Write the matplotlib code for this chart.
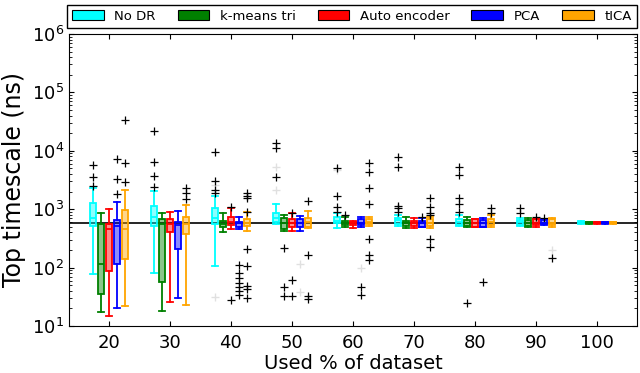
import matplotlib
matplotlib.use("Agg")
import matplotlib.pyplot as plt
from matplotlib.colors import to_rgba
from matplotlib.patches import Patch

groups = [20, 30, 40, 50, 60, 70, 80, 90, 100]
methods = ["No DR", "k-means tri", "Auto encoder", "PCA", "tICA"]
colors = ["#00ffff", "#008000", "#ff0000", "#0000ff", "#ffa500"]
offsets = [-2.65, -1.32, 0.0, 1.32, 2.65]
reference_level = 580

# per method: whislo, q1, median, q3, whishi for each group
nodr_lo = [77, 80, 108, 560, 470, 515, 515, 515, 560]
nodr_q1 = [515, 515, 560, 610, 580, 560, 535, 535, 572]
nodr_med = [700, 745, 700, 700, 635, 640, 611, 600, 588]
nodr_q3 = [1260, 1150, 1040, 850, 726, 700, 671, 653, 605]
nodr_hi = [2280, 2070, 1680, 1210, 850, 800, 796, 698, 620]
nodr_fl = [[5700, 3500, 2500], [21800, 6500, 3700, 2430], [9400, 3080, 2130, 1920],
           [13400, 11000, 3600], [5000, 1700, 1100, 906], [7700, 5200, 1135, 1036, 906],
           [5350, 3850, 1540, 1220, 890], [1036, 851], []]

km_lo = [17.6, 18.3, 412, 424, 490, 470, 505, 505, 560]
km_q1 = [36, 56, 490, 458, 535, 515, 520, 520, 570]
km_med = [117, 558, 558, 580, 590, 590, 580, 580, 585]
km_q3 = [558, 671, 635, 693, 635, 635, 653, 640, 600]
km_hi = [870, 871, 871, 796, 744, 744, 744, 700, 615]
km_fl = [[], [], [], [214, 47, 32], [780], [], [24.5], [], []]

ae_lo = [14.8, 26, 453, 428, 470, 470, 490, 505, 560]
ae_q1 = [87, 402, 535, 505, 535, 515, 505, 535, 570]
ae_med = [453, 558, 611, 580, 580, 580, 580, 580, 585]
ae_q3 = [558, 671, 726, 671, 611, 635, 671, 671, 600]
ae_hi = [996, 906, 1036, 851, 635, 700, 690, 690, 615]
ae_fl = [[], [], [1104, 28], [870, 61, 32], [], [], [], [721], []]

pca_lo = [20, 30, 453, 428, 490, 490, 490, 535, 560]
pca_q1 = [115, 206, 505, 505, 535, 505, 505, 560, 570]
pca_med = [515, 530, 578, 590, 590, 578, 580, 580, 585]
pca_q3 = [653, 611, 611, 671, 671, 635, 653, 653, 600]
pca_hi = [1343, 942, 744, 765, 744, 700, 698, 680, 615]
pca_fl = [[7150, 3250, 1800], [], [111, 80, 66, 55, 47, 40, 34], [], [47, 34],
          [744], [56], [698], []]

tica_lo = [22, 23, 428, 480, 515, 470, 490, 505, 560]
tica_q1 = [139, 376, 515, 505, 558, 515, 535, 535, 570]
tica_med = [453, 558, 590, 611, 611, 590, 600, 590, 585]
tica_q3 = [969, 744, 671, 698, 671, 671, 690, 671, 600]
tica_hi = [2130, 1180, 880, 942, 744, 744, 796, 698, 615]
tica_fl = [[33700, 6250, 2960], [2335, 1870, 1480], [1870, 1700, 1540, 906, 206, 108, 48, 43, 30],
           [1380, 164, 32.6, 28.7], [6100, 4400, 2280, 1210, 305, 164, 135],
           [1540, 1100, 871, 796, 305, 228], [1036, 860], [144], []]

# faint (light grey) outliers: (group, method index, value)
faint_group = [40, 40, 50, 50, 50, 50, 60, 60, 90]
faint_method = [0, 0, 0, 0, 3, 3, 3, 0, 4]
faint_value = [31, 2600, 5350, 2130, 117, 38, 100, 4600, 200]

all_stats = [
    (nodr_lo, nodr_q1, nodr_med, nodr_q3, nodr_hi, nodr_fl),
    (km_lo, km_q1, km_med, km_q3, km_hi, km_fl),
    (ae_lo, ae_q1, ae_med, ae_q3, ae_hi, ae_fl),
    (pca_lo, pca_q1, pca_med, pca_q3, pca_hi, pca_fl),
    (tica_lo, tica_q1, tica_med, tica_q3, tica_hi, tica_fl),
]

fig = plt.figure(figsize=(6.4, 3.73), dpi=100)
ax = fig.add_axes([0.108, 0.126, 0.887, 0.783])

width = 1.0
for mi, (lo, q1, med, q3, hi, fl) in enumerate(all_stats):
    c = colors[mi]
    stats = []
    for gi in range(len(groups)):
        stats.append(dict(whislo=lo[gi], q1=q1[gi], med=med[gi], q3=q3[gi],
                          whishi=hi[gi], fliers=fl[gi]))
    pos = [g + offsets[mi] for g in groups]
    ax.bxp(stats, positions=pos, widths=width, capwidths=width, patch_artist=True,
           showfliers=True, manage_ticks=False,
           boxprops=dict(facecolor=to_rgba(c, 0.45), edgecolor=c, linewidth=1.3),
           whiskerprops=dict(color=c, linewidth=1.3),
           capprops=dict(color=c, linewidth=1.3),
           medianprops=dict(color=c, linewidth=1.3),
           flierprops=dict(marker="+", markeredgecolor="black", markersize=5.5,
                           markeredgewidth=0.9, linestyle="none"))

fx = [g + offsets[m] for g, m in zip(faint_group, faint_method)]
ax.plot(fx, faint_value, linestyle="none", marker="+", color="black", alpha=0.12,
        markersize=6)

ax.axhline(reference_level, color="black", linewidth=1.2, zorder=0.5)

ax.set_yscale("log")
ax.set_ylim(10, 1e6)
ax.set_xlim(13.5, 106.5)
ax.set_xticks(groups)
ax.set_xticklabels([str(g) for g in groups])
ax.tick_params(axis="both", which="both", direction="in", top=True, right=True)
ax.tick_params(axis="x", labelsize=13, pad=6)
ax.tick_params(axis="y", labelsize=13)
ax.set_xlabel("Used % of dataset", fontsize=14, labelpad=1)
ax.set_ylabel("Top timescale (ns)", fontsize=17)

handles = [Patch(facecolor=c, edgecolor="black", linewidth=0.8) for c in colors]
ax.legend(handles, methods, loc="lower left", bbox_to_anchor=(-0.004, 1.02, 1.004, 0.086),
          mode="expand", ncol=5, borderaxespad=0, fontsize=9.5, fancybox=False,
          edgecolor="black", framealpha=1, handlelength=2.4, handleheight=0.8)

fig.savefig("out.png", dpi=100)
